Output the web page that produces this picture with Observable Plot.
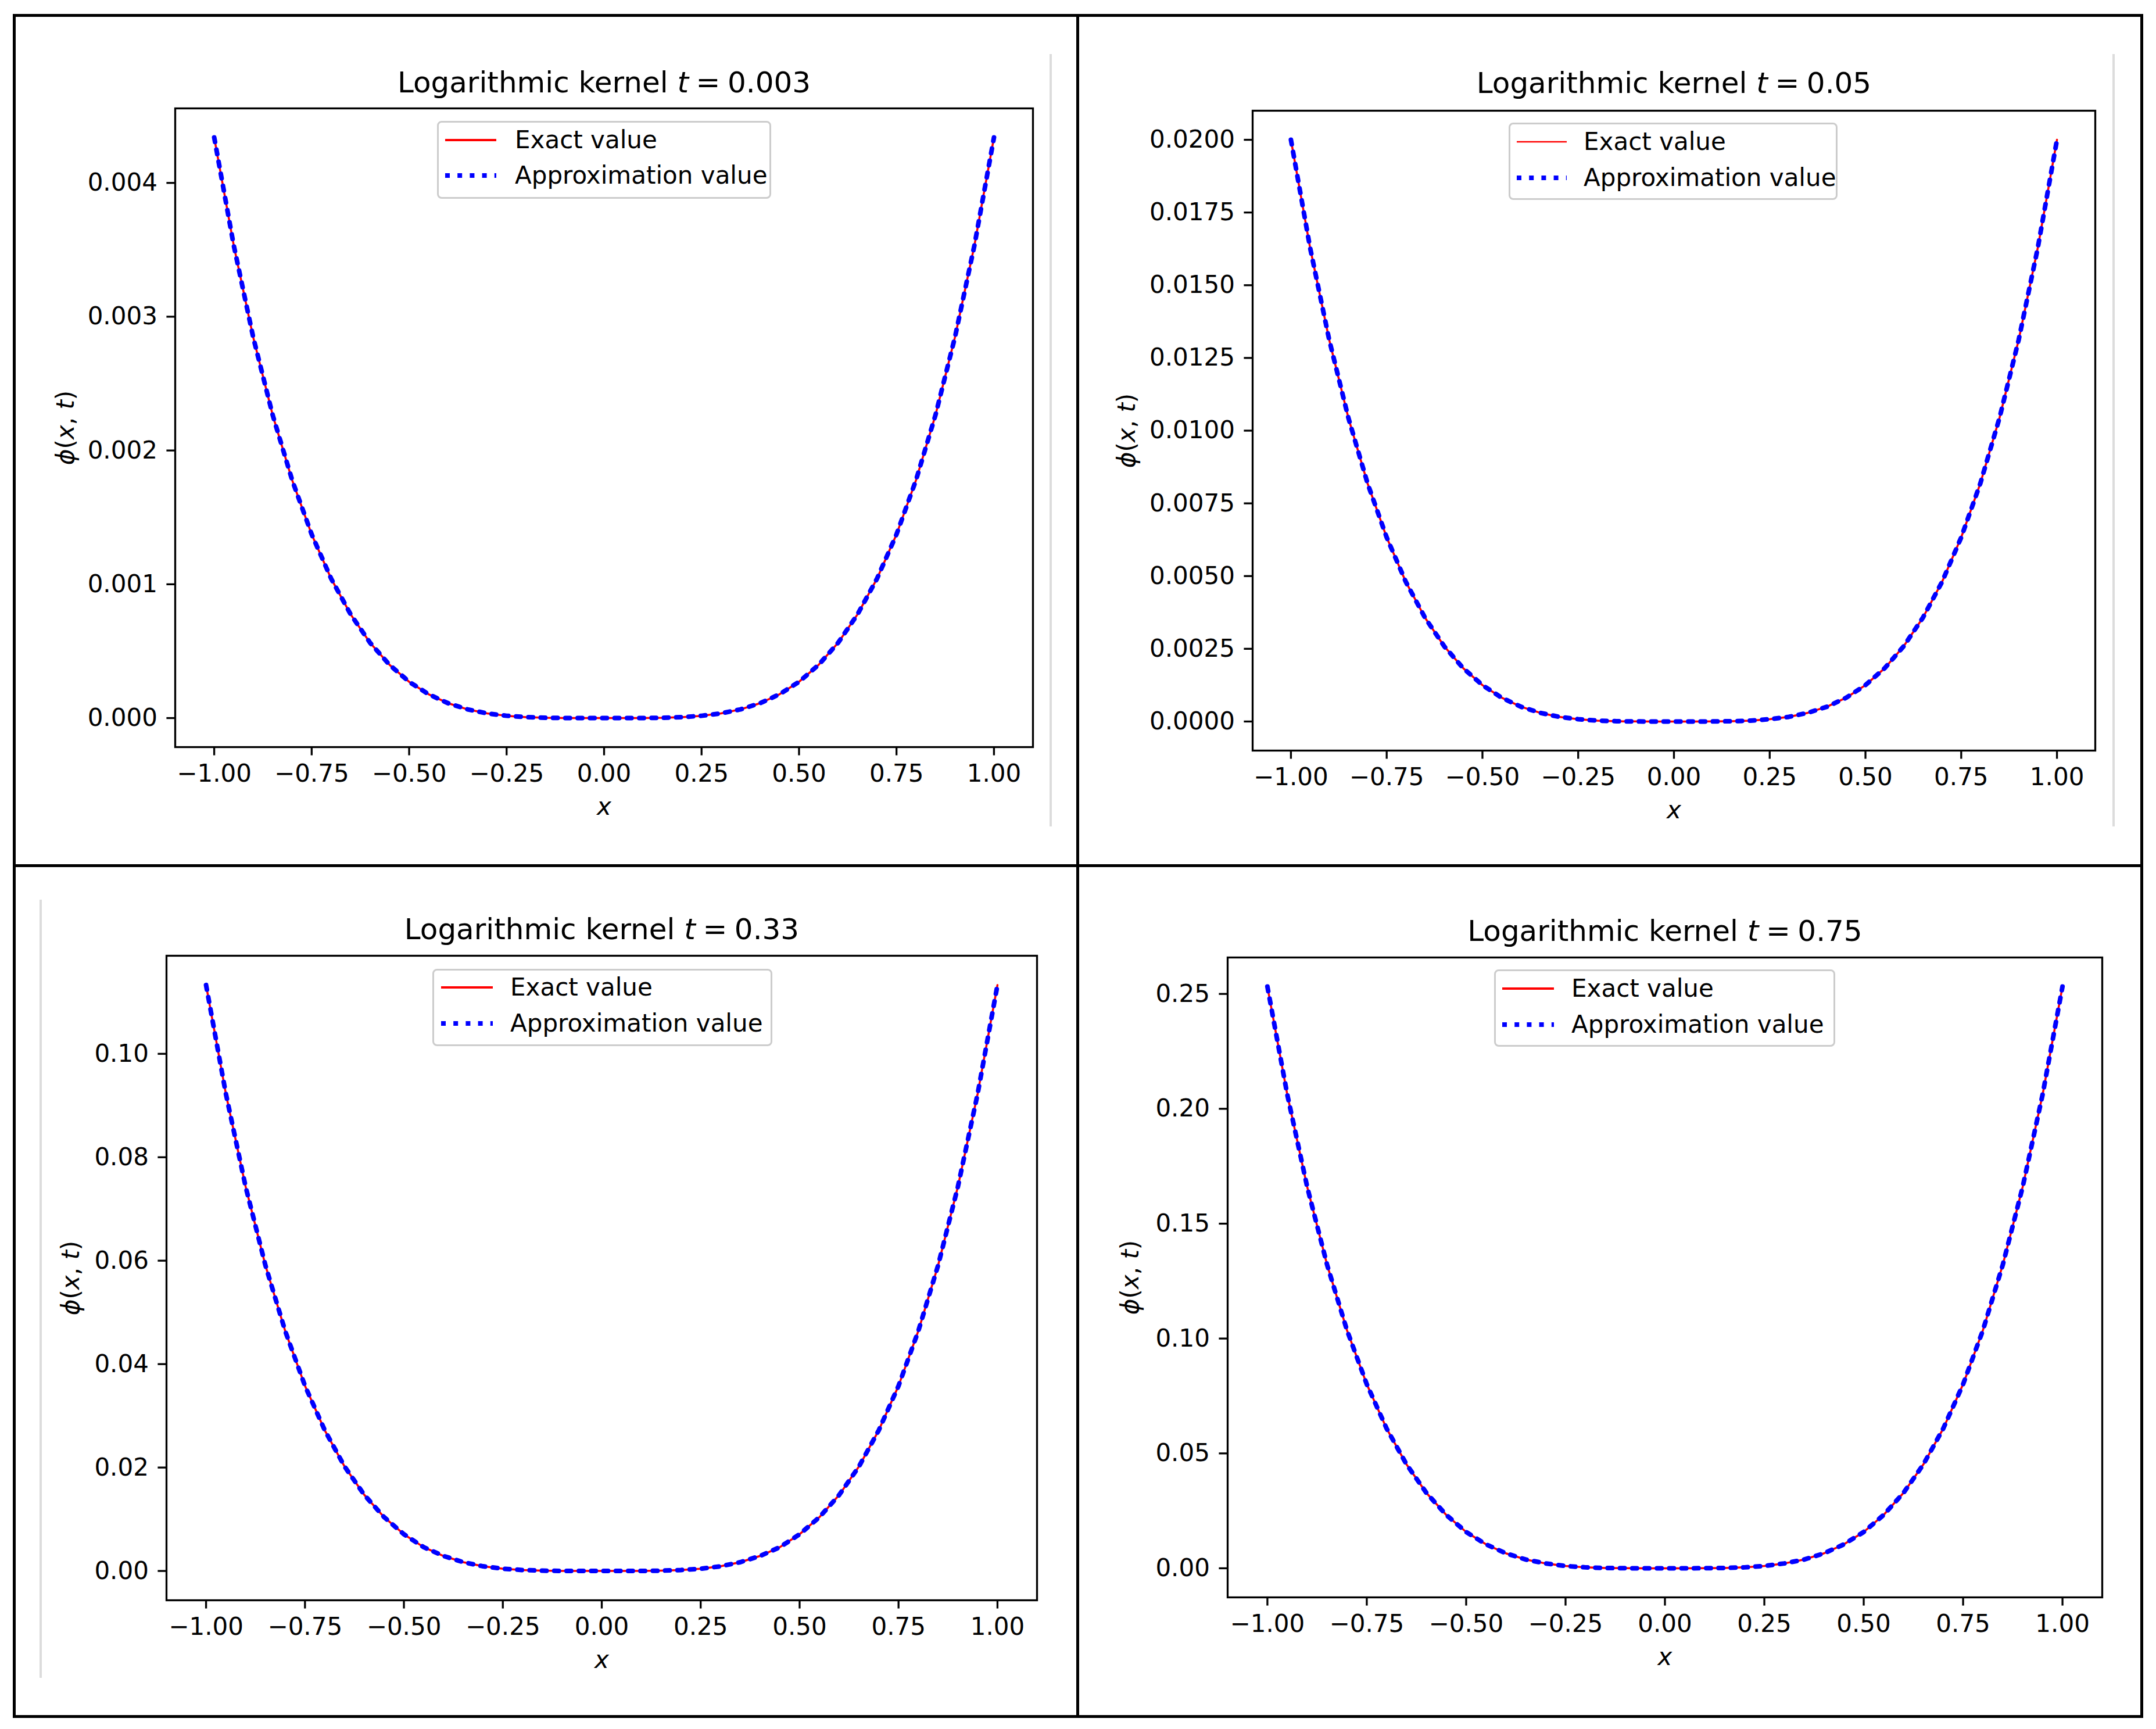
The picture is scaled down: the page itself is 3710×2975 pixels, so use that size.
<!DOCTYPE html>
<html><head><meta charset="utf-8">
<script src="https://cdn.jsdelivr.net/npm/d3@7"></script>
<script src="https://cdn.jsdelivr.net/npm/@observablehq/plot@0.6"></script>
<style>
html,body{margin:0;padding:0;background:#fff;}
#page{position:relative;width:3710px;height:2975px;background:#fff;overflow:hidden;font-family:"DejaVu Sans";}
.cell{position:absolute;}
.cell svg{max-width:none !important;}
.deco{position:absolute;pointer-events:none;}
.legend{position:absolute;box-sizing:border-box;border:3px solid #cccccc;border-radius:8px;background:rgba(255,255,255,0.8);}
.legend span{position:absolute;font-family:"DejaVu Sans";font-size:42px;line-height:42px;white-space:nowrap;color:#000;}
.legend svg{position:absolute;overflow:visible;}
</style></head><body><div id="page"></div>
<script>
// ---- data ----
const xValues = [-1,-0.95,-0.9,-0.85,-0.8,-0.75,-0.7,-0.65,-0.6,-0.55,-0.5,-0.45,-0.4,-0.35,-0.3,-0.25,-0.2,-0.15,-0.1,-0.05,0,0.05,0.1,0.15,0.2,0.25,0.3,0.35,0.4,0.45,0.5,0.55,0.6,0.65,0.7,0.75,0.8,0.85,0.9,0.95,1];

const exactT003 = [0.00434,0.003535,0.002847,0.002265,0.001778,0.001373,0.001042,0.000775,0.000562,0.000397,0.000271,0.000178,0.000111,0.000065,0.000035,0.000017,0.000007,0.000002,0.0000004,0,0,0,0.0000004,0.000002,0.000007,0.000017,0.000035,0.000065,0.000111,0.000178,0.000271,0.000397,0.000562,0.000775,0.001042,0.001373,0.001778,0.002265,0.002847,0.003535,0.00434];
const exactT005 = [0.0200,0.01629,0.01312,0.01044,0.00819,0.00633,0.00480,0.00357,0.00259,0.00183,0.00125,0.00082,0.00051,0.00030,0.00016,0.00008,0.00003,0.00001,0.000002,0,0,0,0.000002,0.00001,0.00003,0.00008,0.00016,0.00030,0.00051,0.00082,0.00125,0.00183,0.00259,0.00357,0.00480,0.00633,0.00819,0.01044,0.01312,0.01629,0.0200];
const exactT033 = [0.1133,0.0923,0.0743,0.0591,0.0464,0.0358,0.0272,0.0202,0.0147,0.0104,0.0071,0.0046,0.0029,0.0017,0.0009,0.00044,0.00018,0.00006,0.00001,0,0,0,0.00001,0.00006,0.00018,0.00044,0.0009,0.0017,0.0029,0.0046,0.0071,0.0104,0.0147,0.0202,0.0272,0.0358,0.0464,0.0591,0.0743,0.0923,0.1133];
const exactT075 = [0.2532,0.2062,0.1661,0.1322,0.1037,0.0801,0.0608,0.0452,0.0328,0.0232,0.0158,0.0104,0.0065,0.0038,0.0021,0.0010,0.0004,0.00013,0.00003,0,0,0,0.00003,0.00013,0.0004,0.0010,0.0021,0.0038,0.0065,0.0104,0.0158,0.0232,0.0328,0.0452,0.0608,0.0801,0.1037,0.1322,0.1661,0.2062,0.2532];

// approximation curves coincide with the exact ones in the picture
const approxT003 = exactT003.slice();
const approxT005 = exactT005.slice();
const approxT033 = exactT033.slice();
const approxT075 = exactT075.slice();

const tLabels = ["0.003","0.05","0.33","0.75"];
const seriesNames = ["Exact value","Approximation value"];
const xTicks = [-1,-0.75,-0.5,-0.25,0,0.25,0.5,0.75,1];
const yTicksT003 = [0,0.001,0.002,0.003,0.004];
const yTicksT005 = [0,0.0025,0.005,0.0075,0.01,0.0125,0.015,0.0175,0.02];
const yTicksT033 = [0,0.02,0.04,0.06,0.08,0.10];
const yTicksT075 = [0,0.05,0.10,0.15,0.20,0.25];
const xLabel = "x";
const yLabel = "ϕ(x, t)";

// ---- layout (pixels) ----
const layout = [
  {exact:exactT003, approx:approxT003, t:tLabels[0], yTicks:yTicksT003, yFmt:".3f",
   left:0, top:0, w:1855, h:1488, mL:301, mR:78, mT:186, mB:203, titleDy:-44, ylDx:-188,
   lg:{x:752,y:208,w:575,h:134,s0:766,s1:854,r:241,b:302,tx:886,redW:4}},
  {exact:exactT005, approx:approxT005, t:tLabels[1], yTicks:yTicksT005, yFmt:".4f",
   left:1855, top:0, w:1855, h:1488, mL:300, mR:105, mT:190, mB:197, titleDy:-47, ylDx:-216,
   lg:{x:2596,y:211,w:566,h:133,s0:2610,s1:2696,r:244,b:306,tx:2725,redW:2.5}},
  {exact:exactT033, approx:approxT033, t:tLabels[2], yTicks:yTicksT033, yFmt:".2f",
   left:0, top:1488, w:1855, h:1487, mL:286, mR:71, mT:156, mB:222, titleDy:-45, ylDx:-164,
   lg:{x:744,y:1667,w:585,h:133,s0:759,s1:848,r:1699,b:1761,tx:878,redW:4}},
  {exact:exactT075, approx:approxT075, t:tLabels[3], yTicks:yTicksT075, yFmt:".2f",
   left:1855, top:1488, w:1855, h:1487, mL:257, mR:93, mT:159, mB:227, titleDy:-45, ylDx:-167,
   lg:{x:2571,y:1668,w:587,h:133,s0:2585,s1:2674,r:1701,b:1763,tx:2704,redW:4}}
];

const page = document.getElementById("page");
const NS = "http://www.w3.org/2000/svg";

function padDomain(vals){
  const [a,b] = d3.extent(vals); const r = b - a;
  return [a - 0.05*r, b + 0.05*r];
}
function richText(el, parts){
  el.textContent = "";
  for (const [s, it] of parts){
    const ts = document.createElementNS(NS, "tspan");
    if (it) ts.setAttribute("font-style", "italic");
    ts.textContent = s;
    el.appendChild(ts);
  }
}

const xDom = padDomain(xValues);

layout.forEach(p => {
  const exactRows = xValues.map((x,i) => ({x, y:p.exact[i]}));
  const approxRows = xValues.map((x,i) => ({x, y:p.approx[i]}));
  const yDom = padDomain(p.exact.concat(p.approx));
  const title = "Logarithmic kernel t\u2005=\u2005" + p.t;
  const chart = Plot.plot({
    width:p.w, height:p.h,
    marginLeft:p.mL, marginRight:p.mR, marginTop:p.mT, marginBottom:p.mB,
    x:{domain:xDom}, y:{domain:yDom},
    style:{fontFamily:"DejaVu Sans", fontSize:"42px", color:"black", background:"transparent", overflow:"visible"},
    marks:[
      Plot.line(exactRows, {x:"x", y:"y", stroke:"#ff0000", strokeWidth:3.5}),
      Plot.line(approxRows, {x:"x", y:"y", stroke:"#0000ff", strokeWidth:8, strokeDasharray:"8,13.2"}),
      Plot.frame({stroke:"black", strokeWidth:3.3}),
      Plot.axisX({ticks:xTicks, tickFormat:d3.format(".2f"), tickSize:14.6, tickPadding:15, strokeWidth:3.3, label:null, fontSize:42}),
      Plot.axisY({ticks:p.yTicks, tickFormat:d3.format(p.yFmt), tickSize:14.6, tickPadding:16, strokeWidth:3.3, label:null, fontSize:42}),
      Plot.text([title], {text:d=>d, frameAnchor:"top", dy:p.titleDy, lineAnchor:"middle", fontSize:50}),
      Plot.text([xLabel], {text:d=>d, frameAnchor:"bottom", dy:103, lineAnchor:"middle", fontSize:42, fontStyle:"italic"}),
      Plot.text([yLabel], {text:d=>d, frameAnchor:"left", dx:p.ylDx, rotate:-90, lineAnchor:"middle", textAnchor:"middle", fontSize:42})
    ]
  });
  chart.querySelectorAll("text").forEach(el => {
    if (el.textContent === title) richText(el, [["Logarithmic kernel ", false], ["t", true], ["\u2005=\u2005" + p.t, false]]);
    else if (el.textContent === yLabel) richText(el, [["ϕ", true], ["(", false], ["x", true], [", ", false], ["t", true], [")", false]]);
  });
  const cell = document.createElement("div");
  cell.className = "cell";
  cell.style.left = p.left + "px"; cell.style.top = p.top + "px";
  cell.style.width = p.w + "px"; cell.style.height = p.h + "px";
  cell.appendChild(chart);
  page.appendChild(cell);

  // legend
  const g = p.lg;
  const lg = document.createElement("div");
  lg.className = "legend";
  lg.style.left = g.x + "px"; lg.style.top = g.y + "px";
  lg.style.width = g.w + "px"; lg.style.height = g.h + "px";
  const rows = [
    {name:seriesNames[0], y:g.r, stroke:"#ff0000", sw:g.redW, dash:null},
    {name:seriesNames[1], y:g.b, stroke:"#0000ff", sw:8, dash:"8,13.2"}
  ];
  rows.forEach(r => {
    const sv = document.createElementNS(NS, "svg");
    sv.setAttribute("width", g.s1 - g.s0); sv.setAttribute("height", 20);
    sv.style.left = (g.s0 - g.x - 3) + "px"; sv.style.top = (r.y - g.y - 3 - 10) + "px";
    const ln = document.createElementNS(NS, "line");
    ln.setAttribute("x1", 0); ln.setAttribute("x2", g.s1 - g.s0);
    ln.setAttribute("y1", 10); ln.setAttribute("y2", 10);
    ln.setAttribute("stroke", r.stroke); ln.setAttribute("stroke-width", r.sw);
    if (r.dash) ln.setAttribute("stroke-dasharray", r.dash);
    sv.appendChild(ln); lg.appendChild(sv);
    const sp = document.createElement("span");
    sp.textContent = r.name;
    sp.style.left = (g.tx - g.x - 3) + "px"; sp.style.top = (r.y - g.y - 3 - 21) + "px";
    lg.appendChild(sp);
  });
  page.appendChild(lg);
});

// decorative frame of the composite and faint guide lines
function deco(l,t,w,h,css){
  const d = document.createElement("div");
  d.className = "deco";
  Object.assign(d.style, {left:l+"px", top:t+"px", width:w+"px", height:h+"px"}, css);
  page.appendChild(d);
}
deco(1806, 93, 4, 1329, {background:"#dcdcdc"});
deco(3635, 93, 4, 1329, {background:"#dcdcdc"});
deco(68, 1548, 4, 1339, {background:"#dcdcdc"});
deco(22, 24, 3666, 2932, {border:"5px solid #000", boxSizing:"border-box"});
deco(1852, 24, 5, 2932, {background:"#000"});
deco(22, 1487, 3666, 5, {background:"#000"});
</script>
</body></html>
